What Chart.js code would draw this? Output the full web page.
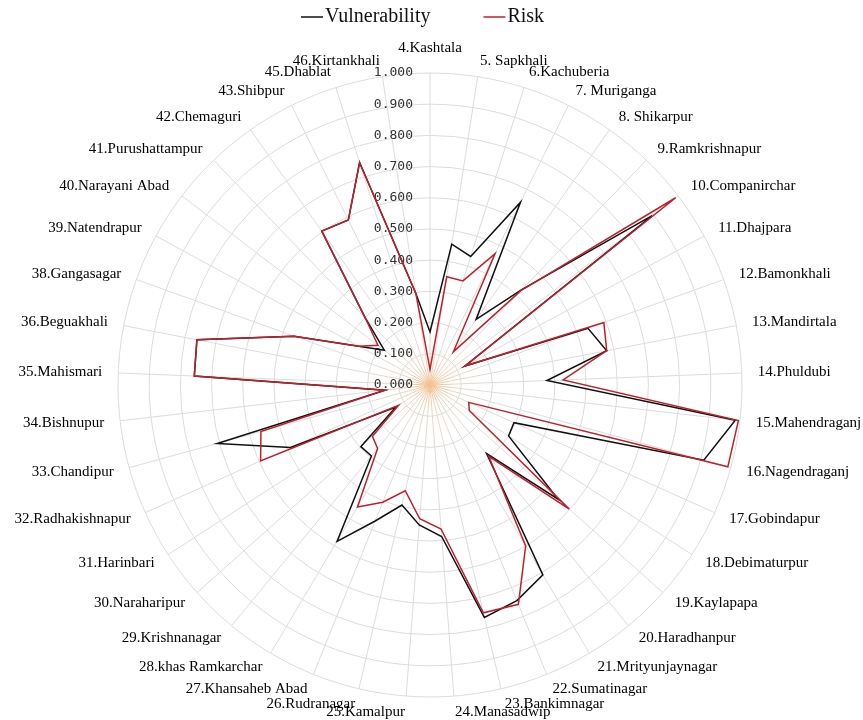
<!DOCTYPE html>
<html>
<head>
<meta charset="utf-8">
<script src="https://cdn.jsdelivr.net/npm/chart.js@4.4.1/dist/chart.umd.min.js"></script>
<style>
    body { margin: 0; background: #fff; }
    #wrap { width: 863px; height: 720px; }
</style>
</head>
<body>
<div id="wrap"><canvas id="chart" width="863" height="720"></canvas></div>
<script>
// village names, clockwise from the top
const villages = [
    "4.Kashtala", "5. Sapkhali", "6.Kachuberia", "7. Muriganga", "8. Shikarpur",
    "9.Ramkrishnapur", "10.Companirchar", "11.Dhajpara", "12.Bamonkhali", "13.Mandirtala",
    "14.Phuldubi", "15.Mahendraganj", "16.Nagendraganj", "17.Gobindapur", "18.Debimaturpur",
    "19.Kaylapapa", "20.Haradhanpur", "21.Mrityunjaynagar", "22.Sumatinagar", "23.Bankimnagar",
    "24.Manasadwip", "25.Kamalpur", "26.Rudranagar", "27.Khansaheb Abad", "28.khas Ramkarchar",
    "29.Krishnanagar", "30.Naraharipur", "31.Harinbari", "32.Radhakishnapur", "33.Chandipur",
    "34.Bishnupur", "35.Mahismari", "36.Beguakhali", "38.Gangasagar", "39.Natendrapur",
    "40.Narayani Abad", "41.Purushattampur", "42.Chemaguri", "43.Shibpur", "45.Dhablat",
    "46.Kirtankhali"
];

const vulnerability = [
    0.170, 0.457, 0.432, 0.654, 0.257, 0.424, 0.895, 0.127, 0.538, 0.577,
    0.375, 0.985, 0.910, 0.295, 0.300, 0.550, 0.285, 0.708, 0.745, 0.765,
    0.487, 0.450, 0.395, 0.470, 0.583, 0.295, 0.297, 0.130, 0.490, 0.707,
    0.145, 0.756, 0.761, 0.463, 0.260, 0.184, 0.300, 0.603, 0.590, 0.748,
    0.297
];

const risk = [
    0.050, 0.351, 0.350, 0.470, 0.130, 0.420, 0.990, 0.127, 0.592, 0.577,
    0.427, 0.995, 0.990, 0.136, 0.150, 0.598, 0.296, 0.600, 0.758, 0.750,
    0.463, 0.430, 0.348, 0.405, 0.455, 0.264, 0.247, 0.120, 0.595, 0.562,
    0.145, 0.756, 0.761, 0.463, 0.260, 0.210, 0.300, 0.603, 0.590, 0.748,
    0.297
];

const tickValues = [0, 0.1, 0.2, 0.3, 0.4, 0.5, 0.6, 0.7, 0.8, 0.9, 1.0];

const serif = '"Liberation Serif", "Times New Roman", serif';
const labelSize = 15;

// tick labels sit left of the vertical axis, under the lines
const tickLabels = {
    id: "tickLabels",
    beforeDatasetsDraw(chart) {
        const s = chart.scales.r;
        const ctx = chart.ctx;
        ctx.save();
        ctx.font = '13px "DejaVu Sans Mono", monospace';
        ctx.fillStyle = "#333";
        ctx.textAlign = "right";
        ctx.textBaseline = "middle";
        tickValues.forEach(v => {
            const d = s.getDistanceFromCenterForValue(v);
            ctx.fillText(v.toFixed(3), s.xCenter - 17, s.yCenter - d);
        });
        ctx.restore();
    }
};

// simple legend: short line then the name
const topLegend = {
    id: "topLegend",
    afterDraw(chart) {
        const ctx = chart.ctx;
        ctx.save();
        ctx.font = "20px " + serif;
        ctx.textBaseline = "middle";
        let x = 301;
        const y = 17;
        chart.data.datasets.forEach(ds => {
            ctx.strokeStyle = ds.borderColor;
            ctx.lineWidth = 1.5;
            ctx.beginPath();
            ctx.moveTo(x, y);
            ctx.lineTo(x + 22, y);
            ctx.stroke();
            x += 24;
            ctx.fillStyle = "#111";
            ctx.fillText(ds.label, x, y);
            x += ctx.measureText(ds.label).width + 53;
        });
        ctx.restore();
    }
};

// put the plot where the original sits and centre each name on its spoke end
function placeScale(scale) {
    scale.xCenter = 430;
    scale.yCenter = 385;
    scale.drawingArea = 312;
    const n = scale._pointLabels.length;
    const h = labelSize * 1.2;
    scale._pointLabelItems = scale._pointLabelItems.map((item, i) => {
        const p = scale.getPointPosition(i, scale.drawingArea + 16);
        const deg = Math.round(i * 360 / n);
        const align = (deg === 0 || deg === 180) ? "center" : (deg < 180 ? "left" : "right");
        const top = deg === 0 ? p.y - h : p.y - h / 2;
        return Object.assign({}, item, { x: p.x, y: top, top: top, bottom: top + h, textAlign: align });
    });
}

const ctx = document.getElementById("chart");

new Chart(ctx, {
    type: "radar",
    data: {
        labels: villages,
        datasets: [
            {
                label: "Vulnerability",
                data: vulnerability,
                borderColor: "#111111",
                borderWidth: 1.5,
                fill: false,
                pointRadius: 0,
                order: 1,
            },
            {
                label: "Risk",
                data: risk,
                borderColor: "#c0202a",
                borderWidth: 1.5,
                fill: false,
                pointRadius: 0,
                order: 0,
            }
        ]
    },
    options: {
        responsive: false,
        animation: false,
        layout: {
            padding: { top: 44, bottom: -2, left: 15, right: 0 }
        },
        elements: {
            line: { tension: 0 }
        },
        plugins: {
            legend: { display: false },
            tooltip: { enabled: false }
        },
        scales: {
            r: {
                min: 0,
                max: 1,
                afterFit: placeScale,
                ticks: { display: false, stepSize: 0.1 },
                grid: { circular: true, color: "#dcdcdc", lineWidth: 1 },
                angleLines: {
                    color: (c) => {
                        const s = c.chart.scales.r;
                        if (!s || !s.drawingArea) return "#dcdcdc";
                        const g = c.chart.ctx.createRadialGradient(s.xCenter, s.yCenter, 0, s.xCenter, s.yCenter, 70);
                        g.addColorStop(0, "#f5c08f");
                        g.addColorStop(0.4, "#efd6c0");
                        g.addColorStop(1, "#dcdcdc");
                        return g;
                    }
                },
                pointLabels: {
                    color: "#000",
                    padding: 10,
                    font: { family: serif, size: labelSize }
                }
            }
        }
    },
    plugins: [tickLabels, topLegend]
});
</script>
</body>
</html>
